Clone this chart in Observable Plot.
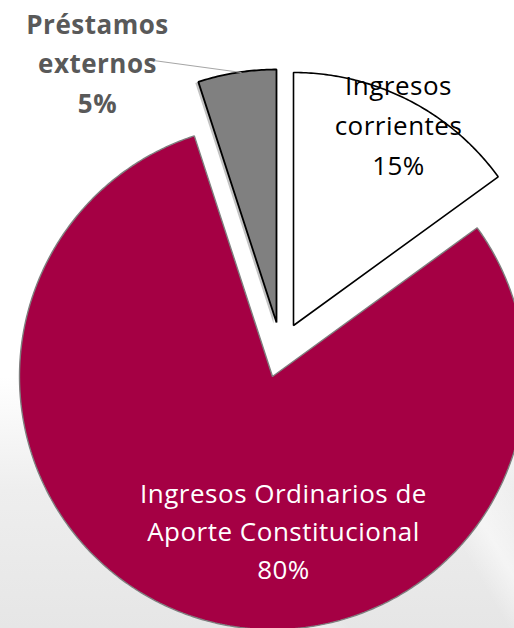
<!DOCTYPE html>
<html><head><meta charset="utf-8">
<script src="https://cdn.jsdelivr.net/npm/d3@7"></script>
<script src="https://cdn.jsdelivr.net/npm/@observablehq/plot@0.6"></script>
<style>
body{margin:0;}
#chart{width:514px;height:628px;position:relative;overflow:hidden;
background:
 linear-gradient(60deg, rgba(255,255,255,0) 0%, rgba(255,255,255,0) 30%, rgba(255,255,255,0.55) 34%, rgba(255,255,255,0) 40%, rgba(255,255,255,0) 58%, rgba(255,255,255,0.5) 62%, rgba(255,255,255,0) 68%, rgba(255,255,255,0) 100%),
 linear-gradient(to bottom, #ffffff 0%, #ffffff 60%, #eeeeee 78%, #e6e6e6 100%);
}
</style></head><body><div id="chart"></div>
<script>
// ---- data ----
const categories = ["Ingresos corrientes", "Ingresos Ordinarios de Aporte Constitucional", "Préstamos externos"];
const shares = [15, 80, 5];
const percentLabels = ["15%", "80%", "5%"];
const labelLines = [["Ingresos", "corrientes"], ["Ingresos Ordinarios de", "Aporte Constitucional"], ["Préstamos", "externos"]];

// ---- layout / style ----
const W = 514, H = 628;
const radius = 253;
const apex = [[293, 325], [272, 376], [276, 322]];
const fills = ["#ffffff", "#a50044", "#808080"];
const strokes = ["#000000", "#7f7f7f", "#000000"];
const strokeWidths = [1.6, 1.4, 1.8];
const shadowOn = [false, false, true];
const labelPos = [[398, 122], [283, 528], [97, 60]];
const labelColor = ["#000000", "#ffffff", "#595959"];
const labelWeight = ["normal", "normal", "bold"];
const labelLH = [1.54, 1.46, 1.52];
const leader = [{x1: 153, y1: 60, x2: 241, y2: 72}];

const arcs = d3.pie().sort(null).value(d => d)(shares);
const slices = arcs.map((a, i) => {
  const [cx, cy] = apex[i];
  const pts = [{x: cx, y: cy, k: categories[i]}];
  const n = Math.max(10, Math.ceil((a.endAngle - a.startAngle) / 0.01));
  for (let j = 0; j <= n; j++) {
    const t = a.startAngle + (a.endAngle - a.startAngle) * j / n;
    pts.push({x: cx + radius * Math.sin(t), y: cy - radius * Math.cos(t), k: categories[i]});
  }
  return pts;
});

const marks = [];
slices.forEach((pts, i) => {
  if (shadowOn[i]) marks.push(Plot.line(pts, {x: "x", y: "y", curve: "linear-closed", fill: "#a8a8a8", fillOpacity: 0.7, stroke: "none", dx: -3, dy: 1}));
});
slices.forEach((pts, i) => {
  marks.push(Plot.line(pts, {x: "x", y: "y", curve: "linear-closed", fill: fills[i], stroke: strokes[i], strokeWidth: strokeWidths[i], strokeLinejoin: "miter"}));
});
marks.push(Plot.link(leader, {x1: "x1", y1: "y1", x2: "x2", y2: "y2", stroke: "#a6a6a6", strokeWidth: 1.2}));
categories.forEach((c, i) => {
  marks.push(Plot.text([{x: labelPos[i][0], y: labelPos[i][1], t: labelLines[i].concat([percentLabels[i]]).join("\n")}], {
    x: "x", y: "y", text: "t", fill: labelColor[i], fontWeight: labelWeight[i], fontSize: 26,
    lineHeight: labelLH[i], lineAnchor: "middle", textAnchor: "middle"
  }));
});

const chart = Plot.plot({
  width: W, height: H, margin: 0,
  x: {domain: [0, W], range: [0, W], axis: null},
  y: {domain: [0, H], range: [0, H], axis: null},
  style: {background: "transparent", fontFamily: "'Open Sans', sans-serif", overflow: "visible", letterSpacing: "0.5px"},
  marks
});
document.getElementById("chart").appendChild(chart);
</script>
</body></html>
